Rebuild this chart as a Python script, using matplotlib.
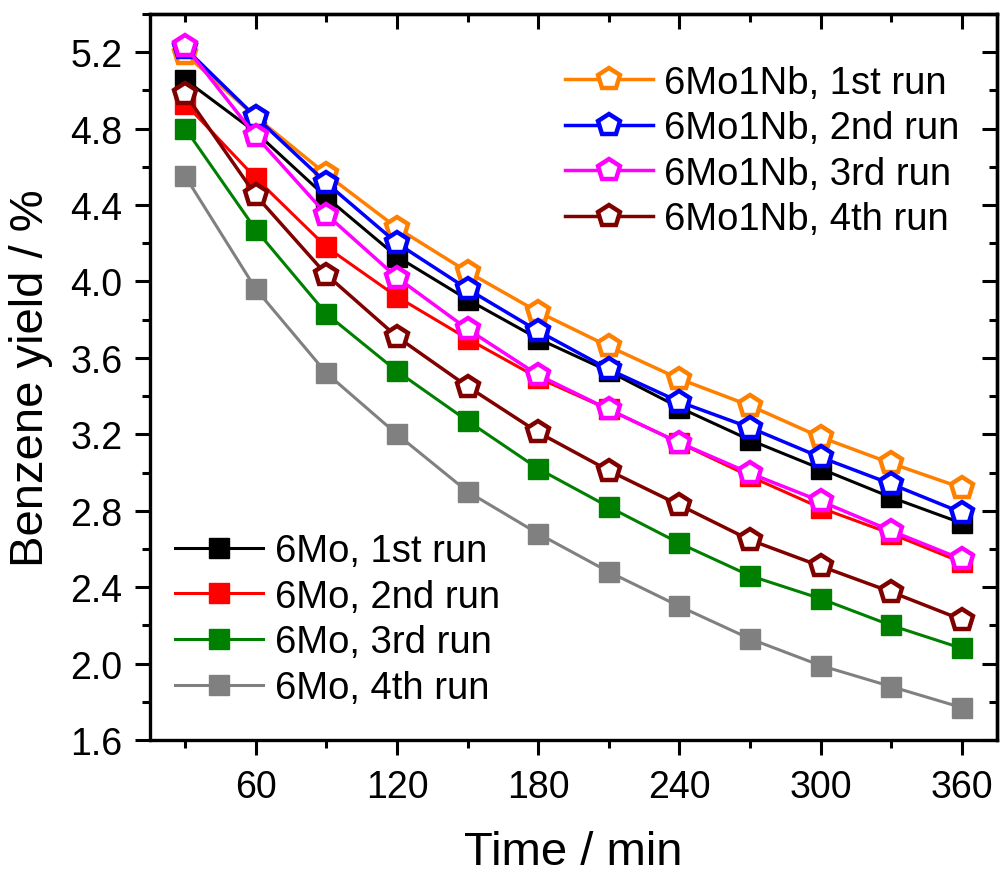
import matplotlib
matplotlib.use('Agg')
import matplotlib.pyplot as plt
from matplotlib.ticker import MultipleLocator

plt.rcParams['font.family'] = ['Liberation Sans', 'DejaVu Sans']

# reaction time (min)
time_min = [30, 60, 90, 120, 150, 180, 210, 240, 270, 300, 330, 360]

# benzene yield (%) for the 6Mo catalyst, runs 1-4
mo_run1 = [5.055, 4.78, 4.44, 4.13, 3.905, 3.70, 3.53, 3.34, 3.17, 3.02, 2.87, 2.735]
mo_run2 = [4.93, 4.54, 4.18, 3.92, 3.70, 3.495, 3.33, 3.155, 2.98, 2.815, 2.68, 2.53]
mo_run3 = [4.80, 4.27, 3.83, 3.53, 3.27, 3.02, 2.82, 2.63, 2.46, 2.34, 2.20, 2.08]
mo_run4 = [4.55, 3.96, 3.52, 3.20, 2.90, 2.68, 2.48, 2.30, 2.13, 1.99, 1.88, 1.77]

# benzene yield (%) for the 6Mo1Nb catalyst, runs 1-4
nb_run1 = [5.19, 4.86, 4.56, 4.28, 4.05, 3.84, 3.66, 3.49, 3.35, 3.185, 3.048, 2.92]
nb_run2 = [5.22, 4.86, 4.515, 4.20, 3.96, 3.74, 3.54, 3.37, 3.235, 3.08, 2.94, 2.79]
nb_run3 = [5.23, 4.76, 4.35, 4.02, 3.75, 3.51, 3.33, 3.156, 2.996, 2.85, 2.695, 2.546]
nb_run4 = [4.98, 4.45, 4.035, 3.71, 3.45, 3.21, 3.01, 2.83, 2.647, 2.51, 2.375, 2.23]

mo_labels = ['6Mo, 1st run', '6Mo, 2nd run', '6Mo, 3rd run', '6Mo, 4th run']
nb_labels = ['6Mo1Nb, 1st run', '6Mo1Nb, 2nd run', '6Mo1Nb, 3rd run', '6Mo1Nb, 4th run']
mo_colors = ['#000000', '#FF0000', '#008000', '#808080']
nb_colors = ['#FF8000', '#0000FF', '#FF00FF', '#800000']

fig = plt.figure(figsize=(10, 8.78), dpi=100)
ax = fig.add_axes([0.15, 0.156, 0.847, 0.827])

mo_lines = []
for ys, lab, c in zip([mo_run1, mo_run2, mo_run3, mo_run4], mo_labels, mo_colors):
    l, = ax.plot(time_min, ys, color=c, lw=2.2, marker='s', ms=14,
                 mfc=c, mec=c, label=lab)
    mo_lines.append(l)

nb_lines = []
for ys, lab, c in zip([nb_run1, nb_run2, nb_run3, nb_run4], nb_labels, nb_colors):
    l, = ax.plot(time_min, ys, color=c, lw=2.5, marker='p', ms=16.5,
                 mfc='white', mec=c, mew=3.2, label=lab)
    nb_lines.append(l)

ax.set_xlim(15, 375)
ax.set_ylim(1.6, 5.4)
ax.xaxis.set_major_locator(MultipleLocator(60))
ax.xaxis.set_minor_locator(MultipleLocator(30))
ax.yaxis.set_major_locator(MultipleLocator(0.4))
ax.yaxis.set_minor_locator(MultipleLocator(0.2))
ax.yaxis.set_major_formatter(lambda v, p: f'{v:.1f}')

for s in ax.spines.values():
    s.set_linewidth(2.4)
ax.tick_params(which='major', direction='out', length=11, width=2.2, labelsize=27)
ax.tick_params(which='minor', direction='out', length=6, width=2.2)
ax.tick_params(axis='y', pad=9)
ax.tick_params(axis='x', pad=10)

# mirrored ticks on top and right, pointing inward
top = ax.secondary_xaxis('top')
top.xaxis.set_major_locator(MultipleLocator(60))
top.xaxis.set_minor_locator(MultipleLocator(30))
top.tick_params(which='major', direction='in', length=11, width=2.2, labeltop=False)
top.tick_params(which='minor', direction='in', length=6, width=2.2)
right = ax.secondary_yaxis('right')
right.yaxis.set_major_locator(MultipleLocator(0.4))
right.yaxis.set_minor_locator(MultipleLocator(0.2))
right.tick_params(which='major', direction='in', length=11, width=2.2, labelright=False)
right.tick_params(which='minor', direction='in', length=6, width=2.2)
for sa in (top, right):
    for s in sa.spines.values():
        s.set_linewidth(2.4)

ax.set_xlabel('Time / min', fontsize=34, labelpad=18)
ax.set_ylabel('Benzene yield / %', fontsize=34, labelpad=12)

leg1 = ax.legend(handles=nb_lines, loc='upper left', bbox_to_anchor=(0.49, 0.93),
                 frameon=False, fontsize=27.5, handlelength=2.3, handletextpad=0.3,
                 labelspacing=0.25, borderpad=0, borderaxespad=0)
ax.add_artist(leg1)
ax.legend(handles=mo_lines, loc='lower left', bbox_to_anchor=(0.03, 0.047),
          frameon=False, fontsize=27.5, handlelength=2.3, handletextpad=0.3,
          labelspacing=0.25, borderpad=0, borderaxespad=0)

fig.savefig('out.png', dpi=100)
